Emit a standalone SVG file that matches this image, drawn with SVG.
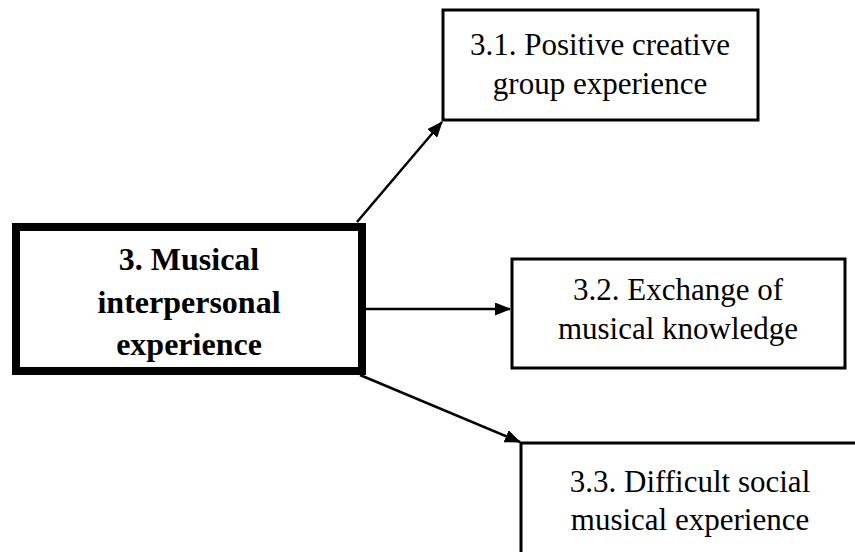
<svg xmlns="http://www.w3.org/2000/svg" width="855" height="552" viewBox="0 0 855 552">
  <style>
    .box { fill: #fff; stroke: #000; stroke-width: 3; }
    .main { fill: #fff; stroke: #000; stroke-width: 8; }
    .lbl { font-family: "Liberation Serif", "Times New Roman", serif; font-size: 31px; fill: #000; text-anchor: middle; }
    .bold { font-weight: bold; font-size: 32px; }
    .edge { stroke: #000; stroke-width: 2.5; fill: none; marker-end: url(#arrow); }
  </style>
  <defs>
    <marker id="arrow" viewBox="0 0 16 13" refX="15" refY="6.5" markerWidth="16" markerHeight="13" markerUnits="userSpaceOnUse" orient="auto">
      <path d="M0,0 L16,6.5 L0,13 Z" fill="#000"/>
    </marker>
    <clipPath id="mainClip">
      <rect x="20" y="231" width="338" height="136"/>
    </clipPath>
  </defs>
  <rect width="855" height="552" fill="#fff"/>

  <g id="connectors">
    <line class="edge" x1="357" y1="222" x2="442" y2="122"/>
    <line class="edge" x1="362" y1="309" x2="510" y2="309"/>
    <line class="edge" x1="360" y1="375" x2="520" y2="442"/>
  </g>

  <g id="node-3">
    <rect class="main" x="16" y="227" width="346" height="144"/>
    <g clip-path="url(#mainClip)">
      <text class="lbl bold" x="189" y="270">3. Musical</text>
      <text class="lbl bold" x="189" y="313">interpersonal</text>
      <text class="lbl bold" x="189" y="355">experience</text>
    </g>
  </g>

  <g id="node-3-1">
    <rect class="box" x="443" y="10" width="315" height="110"/>
    <text class="lbl" x="600" y="55">3.1. Positive creative</text>
    <text class="lbl" x="600" y="94">group experience</text>
  </g>

  <g id="node-3-2">
    <rect class="box" x="512" y="259" width="333" height="109"/>
    <text class="lbl" x="678" y="300">3.2. Exchange of</text>
    <text class="lbl" x="678" y="339">musical knowledge</text>
  </g>

  <g id="node-3-3">
    <rect class="box" x="521" y="443" width="360" height="130"/>
    <text class="lbl" x="690" y="492">3.3. Difficult social</text>
    <text class="lbl" x="690" y="530">musical experience</text>
  </g>
</svg>
